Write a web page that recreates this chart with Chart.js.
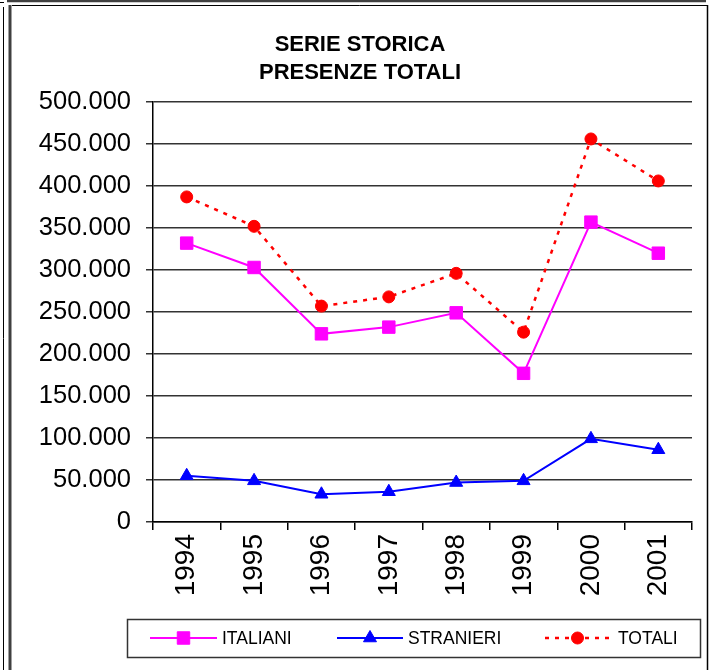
<!DOCTYPE html>
<html>
<head>
<meta charset="utf-8">
<script src="https://cdn.jsdelivr.net/npm/chart.js@4.4.1/dist/chart.umd.min.js"></script>
<style>
html,body{margin:0;padding:0;background:#fff;}
canvas{display:block;}
</style>
</head>
<body>
<canvas id="c" width="712" height="670"></canvas>
<script>
const years = ['1994','1995','1996','1997','1998','1999','2000','2001'];
const italiani = [332000, 303000, 224000, 232000, 249000, 177000, 357000, 320000];
const stranieri = [55000, 49000, 33000, 36000, 47000, 49000, 99000, 86000];
const totali = [387000, 352000, 257000, 268000, 296000, 226000, 456000, 406000];
const titleLines = ['SERIE STORICA', 'PRESENZE TOTALI'];
const seriesNames = ['ITALIANI', 'STRANIERI', 'TOTALI'];

const FONT = "'Liberation Sans', Arial, sans-serif";

function fmt(v) {
  if (v === 0) return '0';
  return String(v).replace(/\B(?=(\d{3})+(?!\d))/g, '.');
}

const framePlugin = {
  id: 'frame',
  beforeDraw(chart) {
    const ctx = chart.ctx;
    ctx.save();
    ctx.fillStyle = '#fff';
    ctx.fillRect(0, 0, chart.width, chart.height);
    ctx.strokeStyle = '#404040';
    ctx.lineWidth = 2.5;
    ctx.beginPath(); ctx.moveTo(7, 1); ctx.lineTo(706, 1); ctx.stroke();
    ctx.lineWidth = 3;
    ctx.beginPath(); ctx.moveTo(10, 5); ctx.lineTo(10, 670); ctx.stroke();
    ctx.strokeStyle = '#000';
    ctx.lineWidth = 1;
    ctx.beginPath(); ctx.moveTo(0, 2.5); ctx.lineTo(4, 2.5); ctx.stroke();
    ctx.beginPath(); ctx.moveTo(3.5, 7); ctx.lineTo(3.5, 670); ctx.stroke();
    ctx.beginPath(); ctx.moveTo(12, 5.5); ctx.lineTo(707.5, 5.5); ctx.stroke();
    ctx.lineWidth = 1.5;
    ctx.beginPath(); ctx.moveTo(707.5, 5); ctx.lineTo(707.5, 670); ctx.stroke();
    ctx.restore();
  }
};

const legendPlugin = {
  id: 'customLegend',
  afterDraw(chart) {
    const ctx = chart.ctx;
    ctx.save();
    ctx.strokeStyle = '#333';
    ctx.lineWidth = 1.5;
    ctx.strokeRect(127.5, 619.5, 573, 38);
    const cy = 638;
    const items = [
      {x0: 150, x1: 217, tx: 222},
      {x0: 337, x1: 403, tx: 408},
      {x0: 545, x1: 610, tx: 618}
    ];
    chart.data.datasets.forEach((ds, i) => {
      const it = items[i];
      ctx.save();
      ctx.strokeStyle = ds.borderColor;
      ctx.lineWidth = ds.borderWidth;
      ctx.setLineDash(ds.borderDash || []);
      ctx.beginPath(); ctx.moveTo(it.x0, cy); ctx.lineTo(it.x1, cy); ctx.stroke();
      ctx.restore();
      ctx.save();
      ctx.fillStyle = ds.pointBackgroundColor;
      ctx.strokeStyle = ds.pointBorderColor;
      ctx.lineWidth = 1;
      Chart.helpers.drawPoint(ctx, {pointStyle: ds.pointStyle, radius: ds.pointRadius, borderWidth: 1, rotation: 0}, (it.x0 + it.x1) / 2, cy);
      ctx.restore();
      ctx.fillStyle = '#000';
      ctx.font = '17.5px ' + FONT;
      ctx.textBaseline = 'middle';
      ctx.textAlign = 'left';
      ctx.fillText(ds.label, it.tx, cy + 1);
    });
    ctx.restore();
  }
};

new Chart(document.getElementById('c'), {
  type: 'line',
  data: {
    labels: years,
    datasets: [
      {
        label: seriesNames[0], data: italiani,
        borderColor: '#FF00FF', borderWidth: 2,
        pointStyle: 'rect', pointRadius: 8.8, pointHoverRadius: 8.8,
        pointBackgroundColor: '#FF00FF', pointBorderColor: '#FF00FF', pointBorderWidth: 1,
        fill: false, tension: 0
      },
      {
        label: seriesNames[1], data: stranieri,
        borderColor: '#0000FF', borderWidth: 2,
        pointStyle: 'triangle', pointRadius: 7.5, pointHoverRadius: 7.5,
        pointBackgroundColor: '#0000FF', pointBorderColor: '#0000FF', pointBorderWidth: 1,
        fill: false, tension: 0
      },
      {
        label: seriesNames[2], data: totali,
        borderColor: '#FF0000', borderWidth: 2.5, borderDash: [4, 6],
        pointStyle: 'circle', pointRadius: 6, pointHoverRadius: 6,
        pointBackgroundColor: '#FF0000', pointBorderColor: '#FF0000', pointBorderWidth: 1,
        fill: false, tension: 0
      }
    ]
  },
  options: {
    responsive: false,
    animation: false,
    layout: { padding: { left: 28, right: 20, top: 10, bottom: 58 } },
    plugins: {
      legend: { display: false },
      tooltip: { enabled: false },
      title: {
        display: true,
        text: titleLines,
        color: '#000',
        font: { family: FONT, size: 22, weight: 'bold', lineHeight: 1.2727 },
        padding: { top: 21, bottom: 15 }
      }
    },
    scales: {
      x: {
        type: 'category',
        offset: true,
        grid: { offset: true, drawOnChartArea: false, drawTicks: true, tickLength: 8, color: '#000', lineWidth: 1.5 },
        border: { display: true, color: '#000', width: 1.5 },
        ticks: { color: '#000', font: { family: FONT, size: 28 }, maxRotation: 90, minRotation: 90, padding: 4, autoSkip: false },
        afterFit(scale) { scale.height = 90; }
      },
      y: {
        min: 0, max: 500000,
        grid: { color: '#333', lineWidth: 1.5, drawTicks: true, tickLength: 7 },
        border: { display: true, color: '#000', width: 1.5 },
        ticks: { stepSize: 50000, color: '#000', font: { family: FONT, size: 25.5 }, padding: 15, callback: (v) => fmt(v) },
        afterFit(scale) { scale.width = 125; }
      }
    }
  },
  plugins: [framePlugin, legendPlugin]
});
</script>
</body>
</html>
